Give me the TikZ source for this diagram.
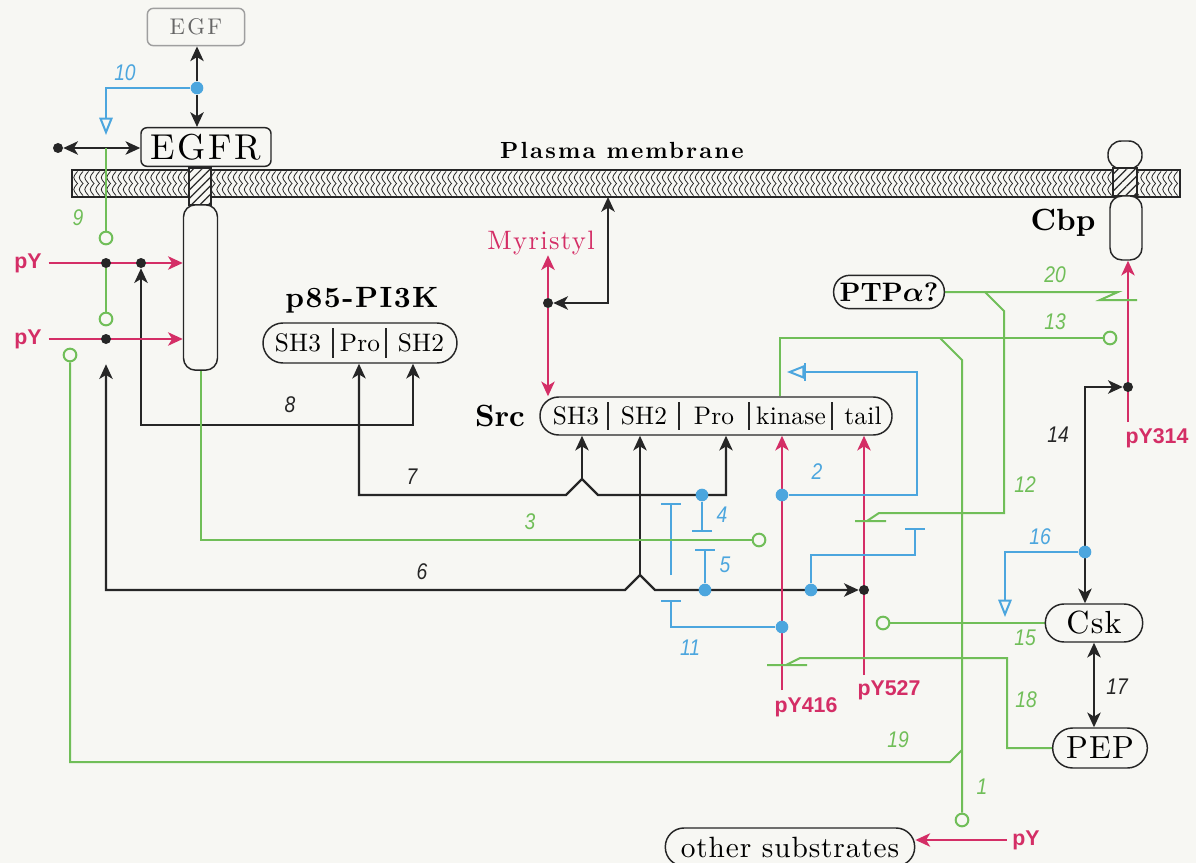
\documentclass[tikz,border=0pt]{standalone}
\usepackage{fontspec}
\usepackage{amsmath}
\usetikzlibrary{arrows.meta,patterns.meta}

\setmainfont{lmroman10-regular.otf}[BoldFont=lmroman10-bold.otf,ItalicFont=lmroman10-italic.otf,BoldItalicFont=lmroman10-bolditalic.otf]
\newfontfamily\numfont{Liberation Sans}
\newcommand{\spc}[1]{\addfontfeature{LetterSpace=#1}}
\newcommand{\lbl}[1]{\scalebox{0.85}[1]{#1}}

\definecolor{paper}{RGB}{247,247,243}
\definecolor{srcblack}{RGB}{38,38,38}
\definecolor{srcpink}{RGB}{212,46,102}
\definecolor{srcblue}{RGB}{76,166,222}
\definecolor{srcgreen}{RGB}{112,190,88}

\pgfdeclarelayer{back}
\pgfdeclarelayer{wires}
\pgfsetlayers{back,wires,main}

\tikzset{every picture/.style={line width=0.75pt}}
\tikzset{
  pill/.style={draw=srcblack,line width=1.1pt,fill=paper,rounded corners=#1,inner sep=0pt},
  hatch/.style={draw=srcblack,line width=1pt,inner sep=0pt,preaction={fill=paper},
    pattern={Lines[angle=45,distance=4.5pt,line width=0.9pt]},pattern color=srcblack},
  dom/.style={inner sep=0pt,anchor=base,font={\fontsize{19}{19}\selectfont\spc{1}}},
  title/.style={inner sep=0pt,font={\bfseries\fontsize{23}{23}\selectfont}},
  num/.style={inner sep=0pt,font={\numfont\itshape\fontsize{17}{17}\selectfont}},
  pyt/.style={inner sep=0pt,text=srcpink,font={\numfont\bfseries\fontsize{16}{16}\selectfont}},
  kline/.style={draw=srcblack,line width=1.7pt,>={Stealth[length=11pt,width=10pt,inset=3pt]}},
  pline/.style={draw=srcpink,line width=1.7pt,>={Stealth[length=11pt,width=10pt,inset=3pt]}},
  bline/.style={draw=srcblue,line width=1.5pt},
  gline/.style={draw=srcgreen,line width=1.5pt},
  tbar/.style={-{Bar[width=15pt]}},
  otri/.style={-{Triangle[open,length=13pt,width=10pt]}},
  bdot/.style={circle,fill=srcblack,inner sep=0pt,minimum size=7.5pt},
  cdot/.style={circle,fill=srcblue,inner sep=0pt,minimum size=9.5pt},
  gcirc/.style={circle,draw=srcgreen,line width=1.5pt,fill=paper,inner sep=0pt,minimum size=9.5pt}
}

\begin{document}
\begin{tikzpicture}[x=0.75pt,y=0.75pt,yscale=-1,xscale=1]
\useasboundingbox (0,0) rectangle (1196,863);

\begin{pgfonlayer}{back}
\fill[paper] (0,0) rectangle (1196,863);
%Shape: Membrane
\node[draw=srcblack,line width=1pt,inner sep=0pt,minimum width=831pt,minimum height=20.25pt] (memb) at (626,183.5) {};
\foreach \x in {75,80.5,...,1175}
  \draw[srcblack,line width=0.6pt] (\x+2.5,171.5) .. controls (\x-2.5,177.5) .. (\x+2.5,183.5) .. controls (\x-2.5,189.5) .. (\x+2.5,195.5);
\end{pgfonlayer}

% Text Node
\node[inner sep=0pt,font={\bfseries\fontsize{17.5}{17.5}\selectfont\spc{9}}] (pmt) at (622,150) {Plasma membrane};

%Shape: EGF and EGFR
\node[pill=4.5pt,draw=gray!75,minimum width=73pt,minimum height=28pt,text=black!60,font={\fontsize{17}{17}\selectfont\spc{10}}] (egf) at (196,27) {EGF};
\node[pill=4.5pt,minimum width=97.5pt,minimum height=29pt,font={\fontsize{27}{27}\selectfont\spc{7}}] (egfr) at (206,147) {EGFR};
\node[hatch,minimum width=16.5pt,minimum height=27.75pt] (egfrtm) at (200,186.5) {};
\node[pill=9pt,minimum width=25.5pt,minimum height=124pt] (egfrc) at (200.5,287.5) {};

%Shape: Cbp
\node[pill=10pt,minimum width=25.5pt,minimum height=21pt] (cbpx) at (1125,155) {};
\node[hatch,minimum width=18pt,minimum height=21pt] (cbptm) at (1125,182) {};
\node[pill=9pt,minimum width=24pt,minimum height=48pt] (cbpc) at (1126,228) {};
\node[title] (cbpl) at (1063,223) {Cbp};

%Shape: p85-PI3K
\node[inner sep=0pt,font={\bfseries\fontsize{22}{22}\selectfont\spc{5}}] (p85t) at (362,300) {p85-PI3K};
\node[pill=15pt,minimum width=145.5pt,minimum height=30pt] (p85) at (360,343) {};
\node[dom] (p85sh3) at (298,351) {SH3};
\node[dom] (p85pro) at (360,351) {Pro};
\node[dom] (p85sh2) at (421,351) {SH2};
\draw[srcblack,line width=1pt] (333,328) -- (333,358) (386,328) -- (386,358);

%Shape: Src
\node[title] (srcl) at (500,416) {Src};
\node[pill=14pt,minimum width=264pt,minimum height=28.5pt] (src) at (716,416) {};
\node[dom] (ssh3) at (576,424) {SH3};
\node[dom] (ssh2) at (644,424) {SH2};
\node[dom] (spro) at (714,424) {Pro};
\node[dom] (skin) at (791,424) {kinase};
\node[dom] (stail) at (863,424) {tail};
\foreach \x in {608,679,749,832} \draw[srcblack,line width=1pt] (\x,402) -- (\x,430);

%Shape: other boxes
\node[pill=12pt,minimum width=83pt,minimum height=25pt,font={\bfseries\fontsize{20}{20}\selectfont}] (ptp) at (889,292) {PTP$\boldsymbol{\alpha}$?};
\node[pill=14pt,minimum width=73pt,minimum height=28.5pt,font={\fontsize{24}{24}\selectfont\spc{4}}] (csk) at (1094,623) {Csk};
\node[pill=15pt,minimum width=71pt,minimum height=30pt,font={\fontsize{24}{24}\selectfont\spc{4}}] (pep) at (1100,748) {PEP};
\node[pill=14pt,minimum width=187pt,minimum height=28.5pt,font={\fontsize{22}{22}\selectfont\spc{3}}] (subs) at (790,847) {other substrates};
\node[inner sep=0pt,text=srcpink,font={\fontsize{20}{20}\selectfont\spc{5}}] (myr) at (541,243) {Myristyl};

% pY Text Nodes
\node[pyt] (py1) at (28,263) {pY};
\node[pyt] (py2) at (28,339) {pY};
\node[pyt] (pyo) at (1026,840) {pY};
\node[pyt] (py416) at (806,707) {pY416};
\node[pyt] (py527) at (889,690) {pY527};
\node[pyt] (py314) at (1157,438) {pY314};

% dots and circles
\node[bdot] (d0) at (58,148) {};
\node[bdot] (dpy1) at (106,263) {};
\node[bdot] (d8) at (141,263) {};
\node[bdot] (dpy2) at (106,339) {};
\node[bdot] (dmyr) at (548,303) {};
\node[bdot] (d527) at (864,590) {};
\node[bdot] (d314) at (1128,387) {};
\node[cdot] (b10) at (197,88) {};
\node[cdot] (b4) at (702,495) {};
\node[cdot] (b5) at (705,590) {};
\node[cdot] (b6) at (811,590) {};
\node[cdot] (b2) at (782,495) {};
\node[cdot] (b11) at (782,627) {};
\node[cdot] (b16) at (1085,552) {};
\node[gcirc] (c9a) at (106,238) {};
\node[gcirc] (c9b) at (106,319) {};
\node[gcirc] (c19) at (70,355) {};
\node[gcirc] (c3) at (759,540) {};
\node[gcirc] (c13) at (1110,338) {};
\node[gcirc] (c15) at (883,623) {};
\node[gcirc] (c1) at (962,820) {};

% corner points
\coordinate (k10) at (106,135);
\coordinate (k9) at (106,148);
\coordinate (k8) at (413,425);
\coordinate (k7) at (359,495);
\coordinate (j7) at (582,479);
\coordinate (k7b) at (726,495);
\coordinate (k6) at (106,590);
\coordinate (j6) at (640,575);
\coordinate (mlink) at (608,197);
\coordinate (k416) at (782,690);
\coordinate (k527) at (864,675);
\coordinate (k314) at (1128,422);
\coordinate (k14) at (1085,387);
\coordinate (t4) at (702,532);
\coordinate (t5) at (705,549);
\coordinate (t11a) at (671,600);
\coordinate (t11b) at (671,575);
\coordinate (t11c) at (671,503);
\coordinate (k6b) at (915,555);
\coordinate (t6) at (915,528);
\coordinate (k2) at (917,372);
\coordinate (t2) at (787,372);
\coordinate (t16) at (1005,617);
\coordinate (k19) at (950,762);
\coordinate (k1b) at (962,750);
\coordinate (k13) at (780,338);
\coordinate (k1a) at (940,338);
\coordinate (k12) at (985,292);

\begin{pgfonlayer}{wires}
% black connectors
\draw[kline,->] (b10) -- (b10 |- egf.south);
\draw[kline,->] (b10) -- (b10 |- egfr.north);
\draw[kline,<->] (d0) -- (egfr.west |- d0);
\draw[kline,<->] (d8) |- (k8) -- (k8 |- p85.south);
\draw[kline,<->] (k7 |- p85.south) -- (k7) -- (566,495) -- (j7) -- (598,495) -- (k7b) -- (k7b |- src.south);
\draw[kline,->] (j7) -- (j7 |- src.south);
\draw[kline,<->,shorten <=15pt] (dpy2) -- (k6) -- (625,590) -- (j6) -- (655,590) -- (d527);
\draw[kline,->] (j6) -- (j6 |- src.south);
\draw[kline,<->] (mlink) |- (dmyr);
\draw[kline,<->] (k14 |- csk.north) -- (k14) -- (d314);
\draw[kline,<->] (csk.south) -- (csk.south |- pep.north);
% pink connectors
\draw[pline,->] ([xshift=5pt]py1.east) -- (py1 -| egfrc.west);
\draw[pline,->] ([xshift=5pt]py2.east) -- (py2 -| egfrc.west);
\draw[pline,->] (dmyr) -- (dmyr |- myr.south);
\draw[pline,->] (dmyr) -- (dmyr |- src.north);
\draw[pline,->] (k416) -- (k416 |- src.south);
\draw[pline,->] (k527) -- (k527 |- src.south);
\draw[pline,->] (k314) -- (k314 |- cbpc.south);
\draw[pline,->] ([xshift=-4pt]pyo.west) -- (pyo.west -| subs.east);
% blue connectors
\draw[bline,otri] (b10) -| (k10);
\draw[bline,tbar] (b4) -- (t4);
\draw[bline,tbar] (b5) -- (t5);
\draw[bline,tbar] (b11) -| (t11a);
\draw[bline,tbar] (t11b) -- (t11c);
\draw[bline,tbar] (b6) |- (k6b) -- (t6);
\draw[bline,-{Bar[width=13pt]Triangle[open,length=13pt,width=10pt]}] (b2) -| (k2) -- (t2);
\draw[bline,otri] (b16) -| (t16);
% green connectors
\draw[gline] (k9) -- (c9a);
\draw[gline] (dpy1) -- (c9b);
\draw[gline] (egfrc.south) |- (c3);
\draw[gline] (c19) |- (k19) -- (k1b);
\draw[gline] (k13 |- src.north) -- (k13) -- (c13);
\draw[gline] (k1a) -- (962,360) -- (c1);
\draw[gline] (ptp.east) -- (1118,292) -- (1100,300) -- (1137,300);
\draw[gline] (k12) -- (1004,311) -- (1004,513) -- (879,513) -- (867,521) (855,521) -- (886,521);
\draw[gline] (csk.west) -- (c15);
\draw[gline] (pep.west) -| (1007,658) -- (800,658) -- (786,665) (767,665) -- (807,665);
\end{pgfonlayer}

% number labels
\node[num,text=srcblue] (n10) at (125,73) {\lbl{10}};
\node[num,text=srcgreen] (n9) at (78,218) {\lbl{9}};
\node[num,text=srcblack] (n8) at (290,405) {\lbl{8}};
\node[num,text=srcblack] (n7) at (412,477) {\lbl{7}};
\node[num,text=srcblack] (n6) at (422,572) {\lbl{6}};
\node[num,text=srcgreen] (n3) at (530,522) {\lbl{3}};
\node[num,text=srcblue] (n4) at (722,515) {\lbl{4}};
\node[num,text=srcblue] (n5) at (725,565) {\lbl{5}};
\node[num,text=srcblue] (n11) at (690,648) {\lbl{11}};
\node[num,text=srcblue] (n2) at (817,472) {\lbl{2}};
\node[num,text=srcgreen] (n12) at (1025,485) {\lbl{12}};
\node[num,text=srcgreen] (n13) at (1055,322) {\lbl{13}};
\node[num,text=srcgreen] (n20) at (1055,275) {\lbl{20}};
\node[num,text=srcblack] (n14) at (1058,435) {\lbl{14}};
\node[num,text=srcblue] (n16) at (1040,537) {\lbl{16}};
\node[num,text=srcgreen] (n15) at (1025,638) {\lbl{15}};
\node[num,text=srcblack] (n17) at (1117,687) {\lbl{17}};
\node[num,text=srcgreen] (n18) at (1026,700) {\lbl{18}};
\node[num,text=srcgreen] (n19) at (898,740) {\lbl{19}};
\node[num,text=srcgreen] (n1) at (982,787) {\lbl{1}};

\end{tikzpicture}
\end{document}
